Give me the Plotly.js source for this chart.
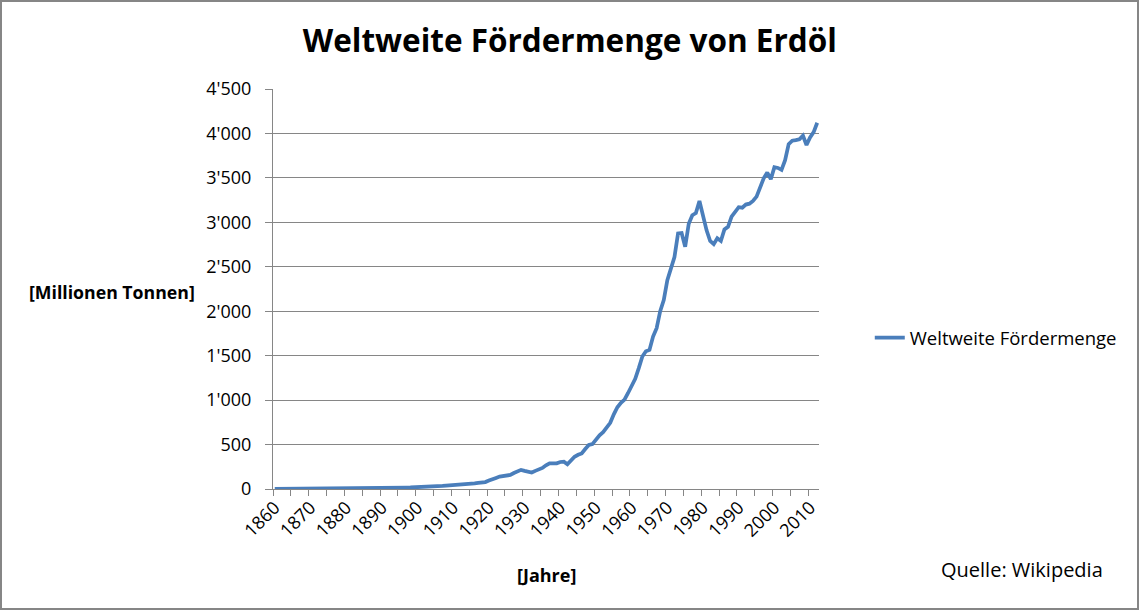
<!DOCTYPE html>
<html>
<head>
<meta charset="utf-8">
<script src="https://cdn.plot.ly/plotly-3.0.1.min.js"></script>
<style>
  html, body { margin: 0; padding: 0; background: #fff; overflow: hidden; width: 1139px; height: 610px; }
  #chart { position: absolute; left: 2px; top: 2px; width: 1135px; height: 606px; }
  #frame { position: absolute; left: 0; top: 0; width: 1139px; height: 610px; box-sizing: border-box; border: 2px solid #868686; pointer-events: none; }
</style>
</head>
<body>
<div id="chart"></div>
<div id="frame"></div>
<script>
const chartTitle = "Weltweite Fördermenge von Erdöl";
const seriesName = "Weltweite Fördermenge";
const xTitle = "[Jahre]";
const yTitle = "[Millionen Tonnen]";
const sourceNote = "Quelle: Wikipedia";

const years = [
  1860,1861,1862,1863,1864,1865,1866,1867,1868,1869,
  1870,1871,1872,1873,1874,1875,1876,1877,1878,1879,
  1880,1881,1882,1883,1884,1885,1886,1887,1888,1889,
  1890,1891,1892,1893,1894,1895,1896,1897,1898,1899,
  1900,1901,1902,1903,1904,1905,1906,1907,1908,1909,
  1910,1911,1912,1913,1914,1915,1916,1917,1918,1919,
  1920,1921,1922,1923,1924,1925,1926,1927,1928,1929,
  1930,1931,1932,1933,1934,1935,1936,1937,1938,1939,
  1940,1941,1942,1943,1944,1945,1946,1947,1948,1949,
  1950,1951,1952,1953,1954,1955,1956,1957,1958,1959,
  1960,1961,1962,1963,1964,1965,1966,1967,1968,1969,
  1970,1971,1972,1973,1974,1975,1976,1977,1978,1979,
  1980,1981,1982,1983,1984,1985,1986,1987,1988,1989,
  1990,1991,1992,1993,1994,1995,1996,1997,1998,1999,
  2000,2001,2002,2003,2004,2005,2006,2007,2008,2009,
  2010,2011,2012
];

const production = [
  0.1,0.3,0.4,0.4,0.3,0.4,0.5,0.5,0.5,0.6,
  0.8,0.8,0.9,1.4,1.5,1.2,1.3,1.8,2.1,2.7,
  4.1,4.3,4.5,3.7,4.0,5.0,6.5,6.8,7.0,8.5,
  10.4,12,12.5,12.8,12.5,14,15,16,17,18,
  20,23,25,26,29,29,28,35,38,40,
  44,46,48,52,55,60,64,70,72,78,
  95,105,125,140,145,155,158,180,195,215,
  204,193,185,204,222,237,267,289,289,289,
  304,307,278,322,363,385,400,450,495,505,
  560,605,640,690,745,840,920,970,1005,1080,
  1150,1240,1360,1490,1550,1565,1715,1810,2000,2125,
  2350,2490,2610,2875,2880,2725,2985,3080,3105,3240,
  3060,2910,2790,2755,2820,2790,2920,2950,3065,3125,
  3170,3165,3200,3210,3240,3290,3405,3495,3560,3485,
  3620,3612,3590,3700,3880,3918,3925,3935,3975,3870,
  3955,4015,4120
];

const xTickVals = [1860,1870,1880,1890,1900,1910,1920,1930,1940,1950,1960,1970,1980,1990,2000,2010];
const yTickVals = [0,500,1000,1500,2000,2500,3000,3500,4000,4500];

const FONT = "'Open Sans', Lato, sans-serif";
const GRID = "#868686";

const trace = {
  x: years,
  y: production,
  type: "scatter",
  mode: "lines",
  name: seriesName,
  line: { color: "#4a7ebb", width: 3.75 },
  hoverinfo: "x+y"
};

const layout = {
  width: 1135,
  height: 606,
  margin: { l: 270.5, r: 318, t: 87, b: 119, pad: 0 },
  paper_bgcolor: "#ffffff",
  plot_bgcolor: "#ffffff",
  separators: ".'",
  font: { family: FONT, size: 18, color: "#000" },
  title: {
    text: chartTitle,
    font: { family: FONT, size: 31.5, color: "#000", weight: "bold" },
    x: 0.5435, xanchor: "center", xref: "paper",
    y: 0.935, yanchor: "middle"
  },
  xaxis: {
    range: [1859.5, 2012.5],
    tickmode: "array",
    tickvals: xTickVals,
    ticktext: xTickVals.map(String),
    tickangle: -45,
    ticks: "",
    showgrid: false,
    zeroline: false,
    showline: true,
    linecolor: GRID,
    linewidth: 1,
    tickfont: { family: FONT, size: 18, color: "#000" },
    minor: { tick0: 1859.5, dtick: 5, ticks: "outside", ticklen: 6, tickcolor: GRID, tickwidth: 1, showgrid: false },
    fixedrange: true
  },
  yaxis: {
    range: [0, 4500],
    tickmode: "array",
    tickvals: yTickVals,
    tickformat: ",d",
    ticks: "outside",
    ticklen: 7,
    tickcolor: GRID,
    ticklabelstandoff: 10,
    showgrid: true,
    gridcolor: GRID,
    gridwidth: 1,
    zeroline: false,
    showline: true,
    linecolor: GRID,
    linewidth: 1,
    tickfont: { family: FONT, size: 18, color: "#000" },
    fixedrange: true
  },
  showlegend: true,
  legend: {
    x: 1.093, xanchor: "left",
    y: 0.3775, yanchor: "middle",
    font: { family: FONT, size: 18.5, color: "#000" },
    bgcolor: "rgba(0,0,0,0)"
  },
  annotations: [
    { text: yTitle, xref: "paper", yref: "paper", x: -0.294, y: 0.4925, xanchor: "center", yanchor: "middle", showarrow: false,
      font: { family: FONT, size: 17.7, color: "#000", weight: "bold" } },
    { text: xTitle, xref: "paper", yref: "paper", x: 0.5, y: -0.215, xanchor: "center", yanchor: "middle", showarrow: false,
      font: { family: FONT, size: 18, color: "#000", weight: "bold" } },
    { text: sourceNote, xref: "paper", yref: "paper", x: 1.371, y: -0.2, xanchor: "center", yanchor: "middle", showarrow: false,
      font: { family: FONT, size: 20, color: "#000" } }
  ]
};

Plotly.newPlot("chart", [trace], layout, { displayModeBar: false });
</script>
</body>
</html>
